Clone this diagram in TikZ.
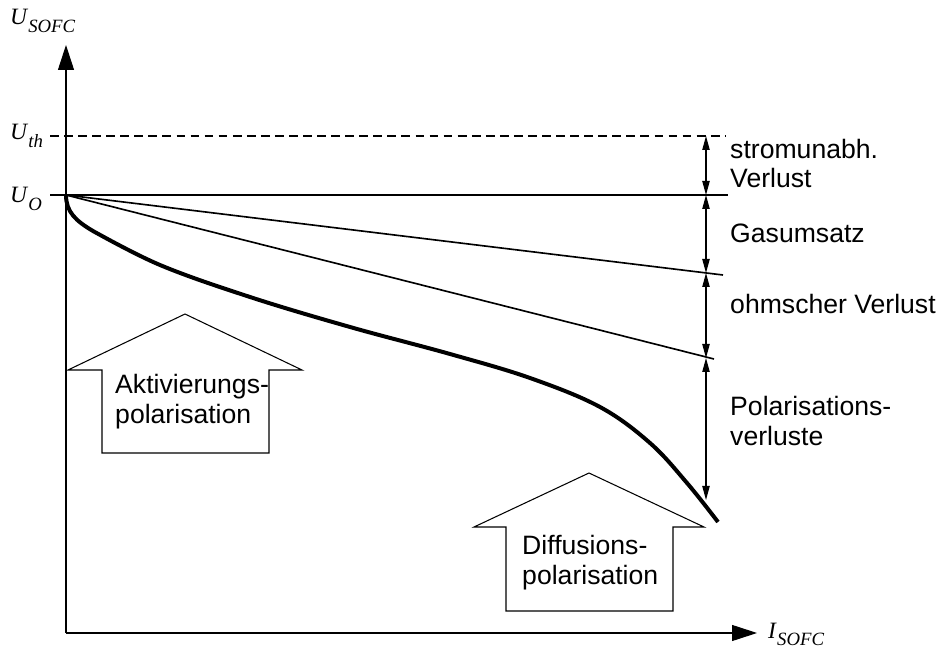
\documentclass[tikz,border=0pt]{standalone}
\usepackage{fontspec}
\setmainfont{Liberation Sans}
\newfontfamily\timesfont{Liberation Serif}
\usetikzlibrary{arrows.meta}

\newcommand{\idx}[1]{\kern1pt\raisebox{-6pt}{\fontsize{16}{16}\selectfont #1}}

\tikzset{
  axis/.style={line width=0.9pt, -{Triangle[length=0.75cm,width=0.48cm]}},
  dim/.style={line width=1pt, {Triangle[length=0.42cm,width=0.22cm]}-{Triangle[length=0.42cm,width=0.22cm]}},
  lab/.style={anchor=base west, inner sep=0pt, font=\fontsize{22.7}{25.6}\selectfont, align=left},
  sym/.style={anchor=base west, inner sep=0pt, font=\fontsize{20}{20}\timesfont\itshape},
  blockarrow/.style={line width=0.9pt, line join=miter},
  curve/.style={line width=3.4pt},
  loss/.style={line width=1.4pt},
}

\begin{document}
\begin{tikzpicture}[x=0.03cm, y=-0.03cm]
    \useasboundingbox (0,0) rectangle (940,651);

    % axes
    \coordinate (O) at (66,633);
    \coordinate (ytip) at (66,45);
    \coordinate (xtip) at (757,633);
    \draw [axis] (O) -- (ytip);
    \draw [axis] (O) -- (xtip);
    \node [sym] (uaxis) at (10,25) {U\idx{SOFC}};
    \node [sym] (iaxis) at (768,638) {I\idx{SOFC}};

    % reference levels
    \coordinate (th0) at (50,136);  \coordinate (th1) at (725,136);
    \coordinate (u0) at (50,195);   \coordinate (u1) at (728,195);
    \draw [line width=1pt, dash pattern=on 7.5pt off 4.5pt] (th0) -- (th1);
    \draw [line width=1pt] (u0) -- (u1);
    \node [sym] (uth) at (10,140) {U\idx{th}};
    \node [sym] (uo) at (10,203) {U\idx{O}};

    % loss lines
    \coordinate (start) at (66,195);
    \coordinate (gas) at (723,275);
    \coordinate (ohm) at (714,359);
    \draw [loss] (start) -- (gas);
    \draw [loss] (start) -- (ohm);
    \draw [curve] (start) .. controls (66,212) and (76,221) .. (93,231)
        -- plot [smooth, tension=0.6] coordinates {(93,231) (160,265) (250,297)
        (350,327) (450,354) (530,378) (600,407) (650,443) (687,483) (718,522)};

    % dimension arrows
    \coordinate (d0) at (706,136);
    \coordinate (d1) at (706,195);
    \coordinate (d2) at (706,273);
    \coordinate (d3) at (706,358);
    \coordinate (d4) at (706,500);
    \draw [dim] (d0) -- (d1);
    \draw [dim] (d1) -- (d2);
    \draw [dim] (d2) -- (d3);
    \draw [dim] (d3) -- (d4);
    \node [lab] (strom) at (730,188) {stromunabh.\\Verlust};
    \node [lab] (gasl) at (730,243) {Gasumsatz};
    \node [lab] (ohml) at (730,314) {ohmscher Verlust};
    \node [lab] (pol) at (730,445) {Polarisations-\\verluste};

    % block arrows
    \draw [blockarrow] (185,314) -- (302,370) -- (269,370) -- (269,453)
        -- (102,453) -- (102,370) -- (68,370) -- cycle;
    \node [lab] (akt) at (115,423) {Aktivierungs-\\polarisation};
    \draw [blockarrow] (589,473) -- (704,527) -- (673,527) -- (673,611)
        -- (506,611) -- (506,527) -- (474,527) -- cycle;
    \node [lab] (diff) at (522,584) {Diffusions-\\polarisation};
\end{tikzpicture}
\end{document}
